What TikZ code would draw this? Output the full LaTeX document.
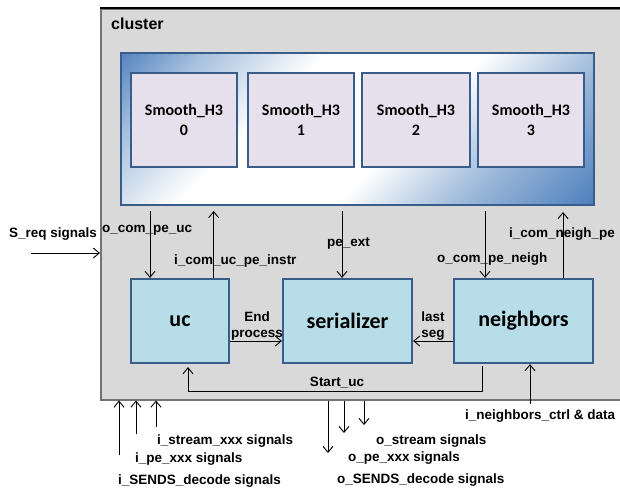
\documentclass[tikz,border=0pt]{standalone}
\usepackage{fontspec}
\setmainfont{Liberation Sans}
\newfontfamily\calfont{Carlito}
\usetikzlibrary{arrows.meta}
\definecolor{pblue}{HTML}{4F81BD}
\definecolor{pedge}{HTML}{385D8A}
\definecolor{clfill}{HTML}{D9D9D9}
\definecolor{pefill}{HTML}{E6E0EC}
\definecolor{blkfill}{HTML}{B7DEE8}
% diagonal blue-white-blue fill of the processing-element panel
\pgfdeclareverticalshading{panelshade}{100bp}{color(0bp)=(pblue); color(15bp)=(pblue); color(30bp)=(pblue!55!white); color(44bp)=(white); color(62bp)=(white); color(76bp)=(pblue!50!white); color(86bp)=(pblue); color(100bp)=(pblue)}

\begin{document}
\begin{tikzpicture}[x=1pt,y=-1pt,
  lbl/.style={font=\bfseries\fontsize{13.5}{16}\selectfont, inner sep=0pt, text height=9.7pt, text depth=0pt},
  lbl2/.style={font=\bfseries\fontsize{13.5}{16}\selectfont, inner sep=0pt, align=center},
  pebox/.style={draw=pedge, line width=2pt, fill=pefill, minimum width=106pt, minimum height=94pt,
    inner sep=0pt, align=center, font=\calfont\bfseries\fontsize{16}{20}\selectfont},
  blk/.style={draw=pedge, line width=2.2pt, fill=blkfill, minimum height=84pt, inner sep=0pt,
    font=\calfont\bfseries\fontsize{22}{26}\selectfont},
  arr/.style={draw=black, line width=0.9pt, -{Straight Barb[length=6pt,width=10pt]}}]

\clip (0,0) rectangle (620,491);
\fill[white] (0,0) rectangle (620,491);

% cluster frame, with a darker top edge
\node[draw=black!55, line width=1.5pt, fill=clfill, minimum width=540pt, minimum height=391pt,
  anchor=north west, inner sep=0pt] (cluster) at (100,8) {};
\draw[black, line width=2pt] (cluster.north west) -- (cluster.north east);
\node[lbl, font=\bfseries\fontsize{16}{18}\selectfont, text height=11.5pt, anchor=west] (ttl) at (111,24) {cluster};

% processing-element panel
\node[draw=pedge, line width=2pt, shading=panelshade, shading angle=45, minimum width=473pt,
  minimum height=152pt, anchor=north west, inner sep=0pt] (pes) at (120,52) {};
\node[pebox] (s0) at (184,120) {Smooth\_H3\\0};
\node[pebox] (s1) at (301,120) {Smooth\_H3\\1};
\node[pebox, minimum width=108pt] (s2) at (416,120) {Smooth\_H3\\2};
\node[pebox] (s3) at (531,120) {Smooth\_H3\\3};

% functional blocks
\node[blk, minimum width=98pt] (uc) at (180,321) {uc};
\node[blk, minimum width=129pt] (ser) at (347.5,321) {serializer};
\node[blk, minimum width=139pt] (nb) at (523.5,321) {neighbors};

% attachment points
\coordinate (ucin) at ([xshift=-30pt]uc.north);
\coordinate (ucout) at ([xshift=33.7pt]uc.north);
\coordinate (serin) at ([xshift=-5.5pt]ser.north);
\coordinate (nbin) at ([xshift=-38.5pt]nb.north);
\coordinate (nbout) at ([xshift=39.5pt]nb.north);
\coordinate (nbst) at ([xshift=-41.5pt]nb.south);
\coordinate (ucst) at ([xshift=8pt]uc.south);
\coordinate (sreq) at (31,253);
\coordinate (isends) at (119,455);
\coordinate (ipe) at (136,434);
\coordinate (istr) at (156,427);
\coordinate (osends) at (328,453);
\coordinate (ope) at (344,433);
\coordinate (ostr) at (364,425);
\coordinate (inbr) at (530,404);

% panel <-> blocks
\draw[arr, shorten <=5pt] (pes.south -| ucin) -- (ucin);
\draw[arr, shorten >=5pt] (ucout) -- (pes.south -| ucout);
\draw[arr, shorten <=5pt] (pes.south -| serin) -- (serin);
\draw[arr, shorten <=5pt] (pes.south -| nbin) -- (nbin);
\draw[arr, shorten >=6pt] (nbout) -- (pes.south -| nbout);

% block <-> block
\draw[arr] ([yshift=-20pt]uc.east) -- ([yshift=-20pt]ser.west);
\draw[arr] ([yshift=-20pt]nb.west) -- ([yshift=-20pt]ser.east);
\draw[arr, shorten <=2pt, shorten >=3pt] (nbst) -- ++(0,27) -| (ucst);

% external signals
\draw[arr] (sreq) -- (sreq -| cluster.west);
\draw[arr] (isends) -- (isends |- cluster.south);
\draw[arr] (ipe) -- (ipe |- cluster.south);
\draw[arr] (istr) -- (istr |- cluster.south);
\draw[arr] (osends |- cluster.south) -- (osends);
\draw[arr] (ope |- cluster.south) -- (ope);
\draw[arr] (ostr |- cluster.south) -- (ostr);
\draw[arr] (inbr) -- (inbr |- nb.south);

% signal names
\node[lbl, anchor=west] (l-sreq) at (9,233) {S\_req signals};
\node[lbl, anchor=west] (l-ocpu) at (102,228) {o\_com\_pe\_uc};
\node[lbl, anchor=west] (l-icup) at (174,260) {i\_com\_uc\_pe\_instr};
\node[lbl, anchor=west] (l-pext) at (327,242) {pe\_ext};
\node[lbl, anchor=west] (l-ocpn) at (437,258) {o\_com\_pe\_neigh};
\node[lbl, anchor=west] (l-icnp) at (509,233) {i\_com\_neigh\_pe};
\node[lbl2] (l-end) at (257,326) {End\\process};
\node[lbl2] (l-last) at (433,326) {last\\seg};
\node[lbl] (l-start) at (337,382) {Start\_uc};
\node[lbl, anchor=west] (l-inbr) at (465,415) {i\_neighbors\_ctrl \& data};
\node[lbl, anchor=west] (l-istr) at (157,440) {i\_stream\_xxx signals};
\node[lbl, anchor=west] (l-ipe) at (135,458) {i\_pe\_xxx signals};
\node[lbl, anchor=west] (l-isends) at (118,480) {i\_SENDS\_decode signals};
\node[lbl, anchor=west] (l-ostr) at (376,440) {o\_stream signals};
\node[lbl, anchor=west] (l-ope) at (348,457) {o\_pe\_xxx signals};
\node[lbl, anchor=west] (l-osends) at (337,479) {o\_SENDS\_decode signals};
\end{tikzpicture}
\end{document}
